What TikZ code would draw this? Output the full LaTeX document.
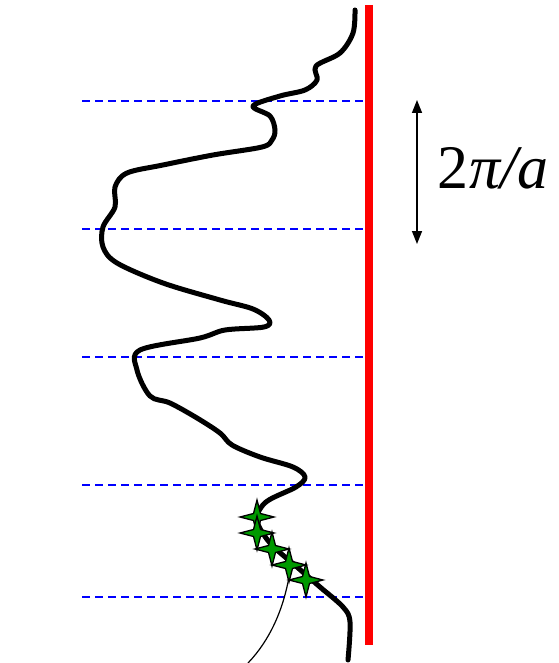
\documentclass[tikz,border=0pt]{standalone}
\usepackage{fontspec}
\setmainfont{Liberation Serif}
\usetikzlibrary{arrows.meta}
\begin{document}
\begin{tikzpicture}[x=1pt,y=-1pt,
  guide/.style={blue,line width=1.4pt,dash pattern=on 8pt off 5pt},
  wall/.style={red,line width=8pt},
  wave/.style={black,line width=5pt,line cap=round,line join=round},
  thin/.style={black,line width=1.2pt},
  period/.style={black,line width=1.5pt,{Triangle[length=13pt,width=10pt]}-{Triangle[length=13pt,width=10pt]}},
  starshape/.style={fill=green!60!black,draw=black,line width=1.3pt,line join=miter}]
\useasboundingbox (0,0) rectangle (558,663);
% guide lines
\foreach \yy/\nm in {101/g1,229/g2,357/g3,485/g4,597/g5}{
  \coordinate (\nm l) at (82,\yy);
  \coordinate (\nm r) at (370,\yy);
  \draw[guide] (\nm l) -- (\nm r);
}
% red wall
\coordinate (wt) at (369,5);
\coordinate (wb) at (369,645);
\draw[wall] (wt) -- (wb);
% wave
\draw[wave] plot[smooth,tension=0.55] coordinates {
(355,10)(353,33)(340,53)(316,66)(317,80)(305,90)(280,96)(253,106)(270,116)(275,130)(272,140)(262,147)(213,155)(163,165)(127,173)(115,187)(115,207)(103,227)(103,247)(117,263)(163,283)(220,300)(253,309)(269,320)(264,327)(225,330)(200,338)(140,350)(137,370)(150,396)(170,403)(197,418)(220,433)(232,445)(260,457)(293,467)(305,477)(296,487)(266,502)(257,520)(270,543)(297,567)(320,587)(343,607)(350,622)(348,660)};
% thin line
\coordinate (ts) at (289,577);
\coordinate (te) at (248,663);
\draw[thin] (ts) .. controls (283,610) and (270,640) .. (te);
% stars
\foreach \sx/\sy/\nm in {257/517/s1,257/533/s2,272/549/s3,289/565/s4,306/580/s5}{
  \coordinate (\nm) at (\sx,\sy);
  \draw[starshape,shift={(\nm)}] (-17,0) -- (-3.5,-3.5) -- (0,-17) -- (3.5,-3.5) -- (17,0) -- (3.5,3.5) -- (0,17) -- (-3.5,3.5) -- cycle;
}
% period arrow
\coordinate (at) at (417,100);
\coordinate (ab) at (417,244);
\draw[period] (at) -- (ab);
\node[anchor=west,inner sep=0pt,font=\fontsize{62}{70}\selectfont] (lab) at (437,168) {2\kern1pt{\itshape π/a}};
\end{tikzpicture}
\end{document}
